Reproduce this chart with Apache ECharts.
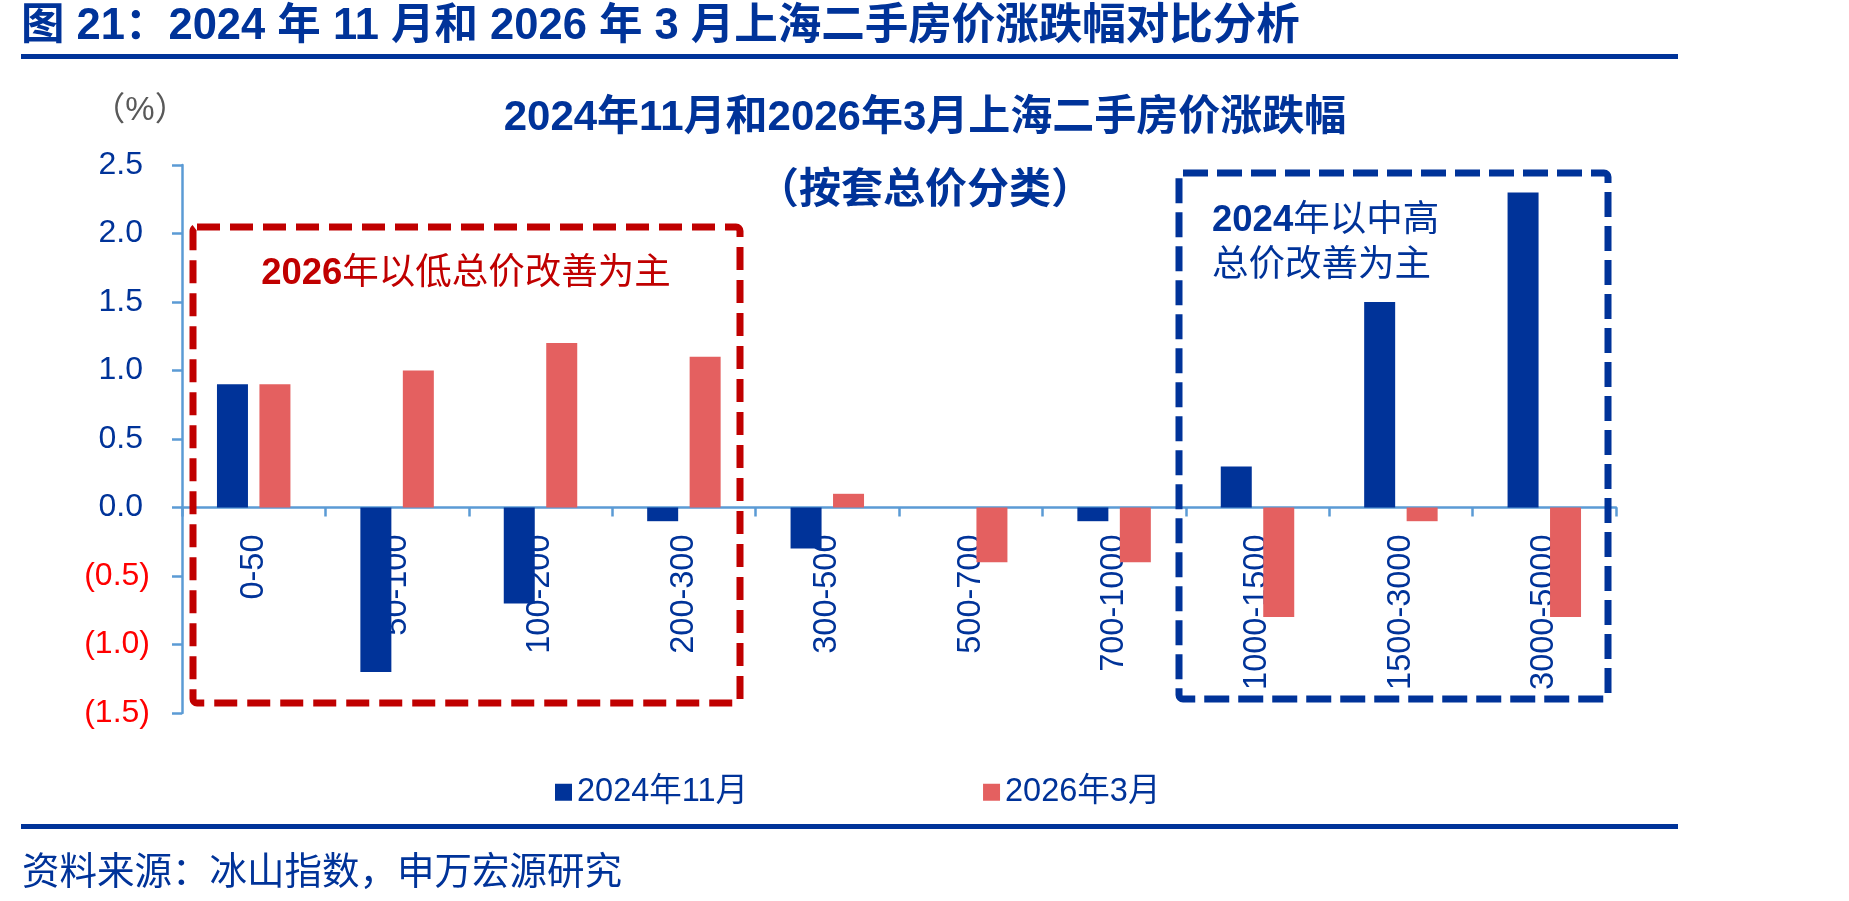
<!DOCTYPE html>
<html>
<head>
<meta charset="utf-8">
<script src="https://cdn.jsdelivr.net/npm/echarts@6/dist/echarts.min.js"></script>
<style>
  html, body { margin: 0; padding: 0; background: #fff; }
  #main { width: 1849px; height: 901px; }
</style>
</head>
<body>
<div id="main"></div>
<script>
// 按套总价分类（万元）
var categories = ['0-50', '50-100', '100-200', '200-300', '300-500', '500-700', '700-1000', '1000-1500', '1500-3000', '3000-5000'];
var seriesNames = ['2024年11月', '2026年3月'];
var nov2024 = [0.9, -1.2, -0.7, -0.1, -0.3, 0, -0.1, 0.3, 1.5, 2.3];
var mar2026 = [0.9, 1.0, 1.2, 1.1, 0.1, -0.4, -0.4, -0.8, -0.1, -0.8];

var FONT = "'Liberation Sans', Arial, 'Noto Sans CJK SC', sans-serif";
var NAVY = '#003399';
var SALMON = '#E46060';
var gridTop = 165, gridHeight = 548;

var chart = echarts.init(document.getElementById('main'));

var option = {
    backgroundColor: '#fff',
    animation: false,
    grid: {
        left: 182,
        right: 233,
        top: gridTop,
        height: gridHeight,
        outerBoundsMode: 'none'
    },
    legend: {
        data: seriesNames,
        left: 550,
        top: 771,
        itemWidth: 17,
        itemHeight: 17,
        itemGap: 235,
        icon: 'rect',
        textStyle: { color: NAVY, fontSize: 32.5, fontFamily: FONT }
    },
    xAxis: {
        type: 'category',
        data: categories,
        axisLine: { onZero: false, lineStyle: { color: '#5B9BD5', width: 2.5 } },
        axisTick: { show: true, length: 9, lineStyle: { color: '#5B9BD5', width: 2.5 } },
        axisLabel: {
            rotate: 90,
            margin: 27,
            color: NAVY,
            fontSize: 32.5,
            fontFamily: FONT
        },
        splitLine: { show: false }
    },
    yAxis: {
        type: 'value',
        min: -1.5,
        max: 2.5,
        interval: 0.5,
        axisLine: { show: true, lineStyle: { color: '#5B9BD5', width: 2.5 } },
        axisTick: { show: true, length: 10, lineStyle: { color: '#5B9BD5', width: 2.5 } },
        splitLine: { show: false },
        axisLabel: {
            margin: 32,
            formatter: function (v) {
                if (v < 0) return '{neg|(' + Math.abs(v).toFixed(1) + ')}';
                return '{pos|' + v.toFixed(1) + '}';
            },
            rich: {
                pos: { color: NAVY, fontSize: 32, fontFamily: FONT, padding: [0, 7, 0, 0] },
                neg: { color: '#FF0000', fontSize: 32, fontFamily: FONT }
            }
        }
    },
    series: [
        {
            name: seriesNames[0],
            type: 'bar',
            data: nov2024,
            barWidth: 31,
            barGap: '37%',
            itemStyle: { color: NAVY }
        },
        {
            name: seriesNames[1],
            type: 'bar',
            data: mar2026,
            barWidth: 31,
            itemStyle: { color: SALMON }
        }
    ],
    graphic: [
        // 标题与分隔线
        {
            type: 'text', x: 21, y: 27, z: 10,
            style: {
                text: '图 21：2024 年 11 月和 2026 年 3 月上海二手房价涨跌幅对比分析',
                fontSize: 43.5, fontWeight: 'bold', fontFamily: FONT, fill: NAVY,
                align: 'left', textAlign: 'left', verticalAlign: 'middle', textVerticalAlign: 'middle'
            }
        },
        { type: 'rect', shape: { x: 21, y: 54, width: 1657, height: 5 }, style: { fill: NAVY } },
        { type: 'rect', shape: { x: 21, y: 824, width: 1657, height: 5 }, style: { fill: NAVY } },
        {
            type: 'text', x: 22, y: 874,
            style: {
                text: '资料来源：冰山指数，申万宏源研究',
                fontSize: 37.5, fontFamily: FONT, fill: NAVY,
                align: 'left', textAlign: 'left', verticalAlign: 'middle', textVerticalAlign: 'middle'
            }
        },
        // 图内标题
        {
            type: 'text', x: 925, y: 118,
            style: {
                text: '2024年11月和2026年3月上海二手房价涨跌幅',
                fontSize: 42, fontWeight: 'bold', fontFamily: FONT, fill: NAVY,
                align: 'center', textAlign: 'center', verticalAlign: 'middle', textVerticalAlign: 'middle'
            }
        },
        {
            type: 'text', x: 925, y: 191,
            style: {
                text: '（按套总价分类）',
                fontSize: 42, fontWeight: 'bold', fontFamily: FONT, fill: NAVY,
                align: 'center', textAlign: 'center', verticalAlign: 'middle', textVerticalAlign: 'middle'
            }
        },
        {
            type: 'text', x: 140, y: 111,
            style: {
                text: '（%）',
                fontSize: 33, fontFamily: FONT, fill: '#595959',
                align: 'center', textAlign: 'center', verticalAlign: 'middle', textVerticalAlign: 'middle'
            }
        },
        // 虚线框
        {
            type: 'rect', z: 5,
            shape: { x: 193, y: 227, width: 547, height: 476, r: 4 },
            style: { fill: null, stroke: '#C00000', lineWidth: 7, lineDash: [23, 10] }
        },
        {
            type: 'rect', z: 5,
            shape: { x: 1179, y: 173, width: 429, height: 526, r: 4 },
            style: { fill: null, stroke: NAVY, lineWidth: 7, lineDash: [25, 9] }
        },
        {
            type: 'text', x: 466, y: 274, z: 6,
            style: {
                text: '{b|2026}{n|年以低总价改善为主}',
                align: 'center', textAlign: 'center', verticalAlign: 'middle', textVerticalAlign: 'middle',
                rich: {
                    b: { fontSize: 36.5, fontWeight: 'bold', fontFamily: FONT, fill: '#C00000', color: '#C00000' },
                    n: { fontSize: 36.5, fontFamily: FONT, fill: '#C00000', color: '#C00000' }
                }
            }
        },
        {
            type: 'text', x: 1212, y: 243, z: 6,
            style: {
                text: '{b|2024}{n|年以中高}\n{n|总价改善为主}',
                align: 'left', textAlign: 'left', verticalAlign: 'middle', textVerticalAlign: 'middle',
                rich: {
                    b: { fontSize: 36.5, fontWeight: 'bold', fontFamily: FONT, fill: NAVY, color: NAVY, lineHeight: 45 },
                    n: { fontSize: 36.5, fontFamily: FONT, fill: NAVY, color: NAVY, lineHeight: 45 }
                }
            }
        }
    ]
};

chart.setOption(option);

// 横轴放在 0 值处：按 y 轴比例算出偏移量
var zeroY = chart.convertToPixel({ yAxisIndex: 0 }, 0);
chart.setOption({ xAxis: { offset: zeroY - (gridTop + gridHeight) } });
</script>
</body>
</html>
